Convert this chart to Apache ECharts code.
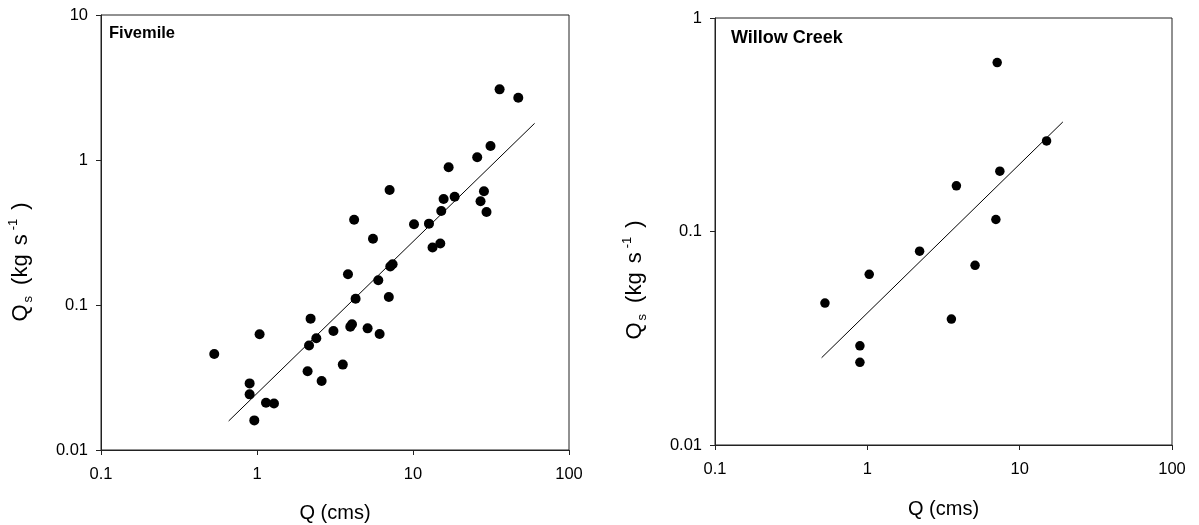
<!DOCTYPE html>
<html>
<head>
<meta charset="utf-8">
<script src="https://cdn.jsdelivr.net/npm/echarts@6/dist/echarts.min.js"></script>
<style>
html,body{margin:0;padding:0;background:#fff;}
#chart{width:1199px;height:525px;}
</style>
</head>
<body>
<div id="chart"></div>
<script>
// ---- Data ----
const panelTitles = ['Fivemile', 'Willow Creek'];
const xTickLabels = ['0.1', '1', '10', '100'];
const yTickLabelsLeft = ['0.01', '0.1', '1', '10'];
const yTickLabelsRight = ['0.01', '0.1', '1'];
const xAxisTitle = 'Q (cms)';

const fivemileQ  = [0.532, 0.897, 0.897, 0.961, 1.039, 1.142, 1.285, 2.11, 2.155, 2.206, 2.40, 2.596, 3.09, 3.548, 3.83, 3.963, 4.064, 4.194, 4.286, 5.117, 5.54, 5.99, 6.11, 7.0, 7.08, 7.15, 7.40, 10.15, 12.66, 13.34, 14.96, 15.18, 15.71, 16.92, 18.49, 25.8, 27.1, 28.5, 29.6, 31.4, 35.9, 47.3];
const fivemileQs = [0.0459, 0.0288, 0.0242, 0.0160, 0.0628, 0.0212, 0.0209, 0.0349, 0.0526, 0.0805, 0.0589, 0.0299, 0.0662, 0.0388, 0.163, 0.0708, 0.0736, 0.387, 0.1105, 0.0690, 0.2866, 0.148, 0.0631, 0.1136, 0.621, 0.1844, 0.191, 0.360, 0.364, 0.249, 0.2655, 0.445, 0.538, 0.891, 0.558, 1.044, 0.519, 0.608, 0.438, 1.249, 3.07, 2.69];
const fivemileFitQ  = [0.658, 60.2];
const fivemileFitQs = [0.01585, 1.79];

const willowQ  = [0.527, 0.894, 0.894, 1.029, 2.204, 3.563, 3.843, 5.096, 6.98, 7.12, 7.41, 15.02];
const willowQs = [0.0462, 0.02916, 0.02438, 0.0630, 0.0809, 0.0389, 0.1636, 0.0694, 0.1138, 0.618, 0.1916, 0.2656];
const willowFitQ  = [0.501, 19.21];
const willowFitQs = [0.02563, 0.326];

// ---- helpers ----
function pairs(xs, ys) { return xs.map((x, i) => [x, ys[i]]); }
function logLabel(list, base) {
  return function (v) {
    const k = Math.round(Math.log10(v)) - base;
    return list[k] !== undefined ? list[k] : '';
  };
}
const FONT = 'Liberation Sans, Arial, sans-serif';
const AX = '#222';

function xAxisCfg(gridIndex, gap) {
  return {
    type: 'log', logBase: 10, min: 0.1, max: 100, gridIndex: gridIndex,
    name: xAxisTitle, nameLocation: 'middle', nameGap: gap,
    nameTextStyle: { fontSize: 20, color: '#000', fontFamily: FONT },
    axisLine: { show: true, lineStyle: { color: AX, width: 1 } },
    axisTick: { show: true, inside: false, length: 5, lineStyle: { color: AX } },
    minorTick: { show: false },
    splitLine: { show: false },
    axisLabel: { margin: 16, fontSize: 16.5, color: '#000', fontFamily: FONT,
                 formatter: logLabel(xTickLabels, -1), showMinLabel: true, showMaxLabel: true }
  };
}
function yAxisCfg(gridIndex, min, max, labels, base) {
  return {
    type: 'log', logBase: 10, min: min, max: max, gridIndex: gridIndex,
    axisLine: { show: true, lineStyle: { color: AX, width: 1 } },
    axisTick: { show: true, inside: false, length: 5, lineStyle: { color: AX } },
    minorTick: { show: false },
    splitLine: { show: false },
    axisLabel: { margin: 13, fontSize: 16.5, color: '#000', fontFamily: FONT,
                 formatter: logLabel(labels, base), showMinLabel: true, showMaxLabel: true }
  };
}
function yTitle(x, y) {
  return {
    type: 'text', x: x, y: y, rotation: Math.PI / 2, silent: true,
    style: {
      text: '{q|Q}{sub|s}{q|(kg}{q2|s}{sup|-1}{q|)}',
      align: 'center', verticalAlign: 'middle', fill: '#000',
      rich: {
        q:   { fontSize: 22, fontFamily: FONT, lineHeight: 28, fill: '#000' },
        q2:  { fontSize: 22, fontFamily: FONT, lineHeight: 28, fill: '#000', padding: [0, 2, 0, 9] },
        sub: { fontSize: 13, fontFamily: FONT, lineHeight: 13, verticalAlign: 'bottom', fill: '#000', padding: [0, 11, 0, 2] },
        sup: { fontSize: 13, fontFamily: FONT, lineHeight: 13, verticalAlign: 'top', fill: '#000', padding: [0, 9, 0, 2] }
      }
    }
  };
}
function panelTitle(text, x, y, size) {
  return {
    type: 'text', x: x, y: y, silent: true,
    style: { text: text, fontSize: size, fontWeight: 'bold', fontFamily: FONT, fill: '#000',
             align: 'left', verticalAlign: 'middle' }
  };
}

const chart = echarts.init(document.getElementById('chart'), null, { renderer: 'canvas' });
chart.setOption({
  animation: false,
  backgroundColor: '#fff',
  grid: [
    { left: 101, top: 15, width: 468, height: 435, show: true, borderColor: AX, borderWidth: 1,
      containLabel: false, outerBoundsMode: 'none' },
    { left: 715, top: 18, width: 457, height: 427, show: true, borderColor: AX, borderWidth: 1,
      containLabel: false, outerBoundsMode: 'none' }
  ],
  xAxis: [xAxisCfg(0, 53), xAxisCfg(1, 54)],
  yAxis: [
    yAxisCfg(0, 0.01, 10, yTickLabelsLeft, -2),
    yAxisCfg(1, 0.01, 1, yTickLabelsRight, -2)
  ],
  graphic: [
    panelTitle(panelTitles[0], 109, 33, 16.5),
    panelTitle(panelTitles[1], 731, 38, 18),
    yTitle(21, 262),
    yTitle(635, 280)
  ],
  series: [
    { type: 'scatter', xAxisIndex: 0, yAxisIndex: 0, data: pairs(fivemileQ, fivemileQs),
      symbol: 'circle', symbolSize: 10, itemStyle: { color: '#000', opacity: 1 } },
    { type: 'line', xAxisIndex: 0, yAxisIndex: 0, data: pairs(fivemileFitQ, fivemileFitQs),
      symbol: 'none', lineStyle: { color: '#000', width: 1 } },
    { type: 'scatter', xAxisIndex: 1, yAxisIndex: 1, data: pairs(willowQ, willowQs),
      symbol: 'circle', symbolSize: 9.5, itemStyle: { color: '#000', opacity: 1 } },
    { type: 'line', xAxisIndex: 1, yAxisIndex: 1, data: pairs(willowFitQ, willowFitQs),
      symbol: 'none', lineStyle: { color: '#000', width: 1 } }
  ]
});
</script>
</body>
</html>
